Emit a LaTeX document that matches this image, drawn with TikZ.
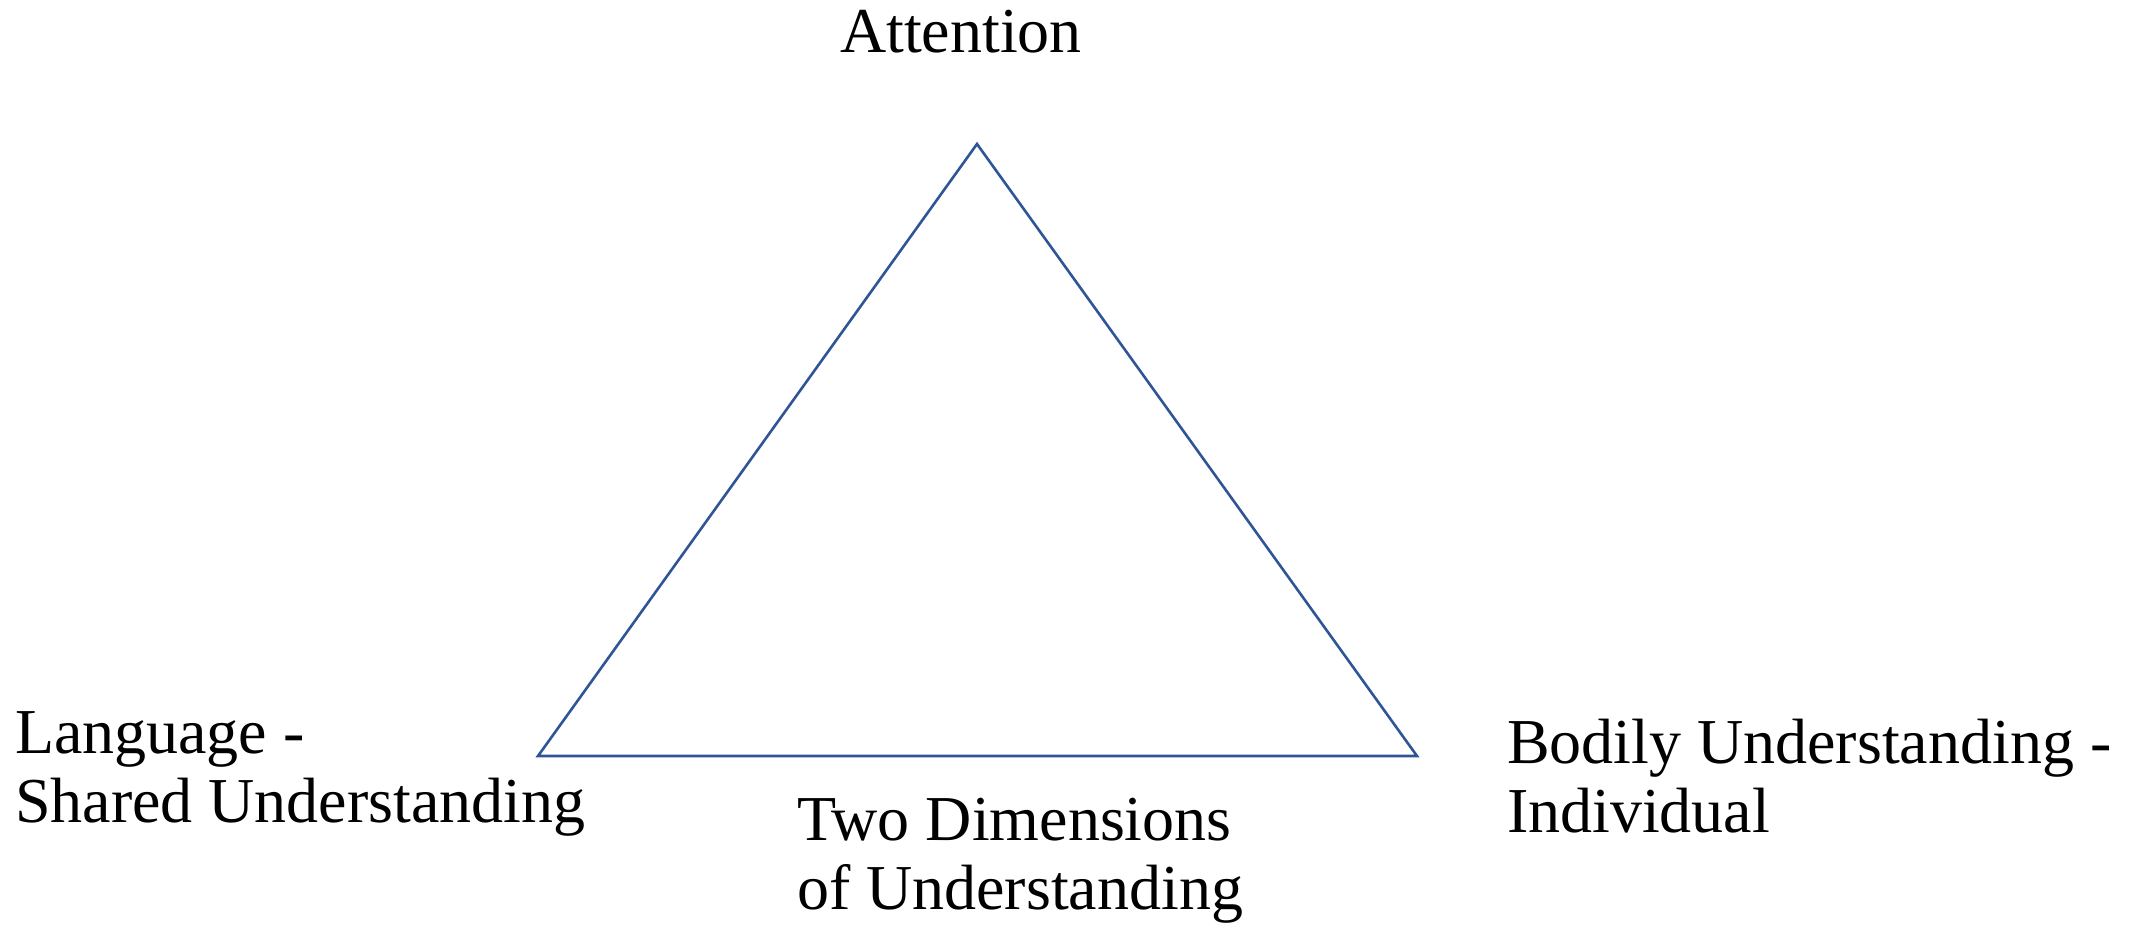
\documentclass[tikz,border=0pt]{standalone}
\usepackage{fontspec}
\setmainfont{Liberation Serif}
\definecolor{triblue}{RGB}{47,85,151}
\tikzset{
  lbl/.style={inner sep=0pt, outer sep=0pt, anchor=base west, align=left,
    font=\fontsize{64}{69}\selectfont, text=black},
  triline/.style={draw=triblue, line width=2.6pt, line join=miter}
}
\begin{document}
\begin{tikzpicture}[x=1pt,y=-1pt]
\useasboundingbox (0,0) rectangle (2133,926);
\coordinate (apex) at (977,144);
\coordinate (bl) at (538,756);
\coordinate (br) at (1417,756);
\draw[triline] (apex) -- (br) -- (bl) -- cycle;
% multi-line nodes: base anchor is the last line's baseline
\node[lbl] (att) at (840,52) {Attention};
\node[lbl] (lang) at (15,822) {Language -\\Shared Understanding};
\node[lbl] (two) at (797,909) {Two Dimensions\\of Understanding};
\node[lbl] (body) at (1507,832) {Bodily Understanding -\\Individual};
\end{tikzpicture}
\end{document}
